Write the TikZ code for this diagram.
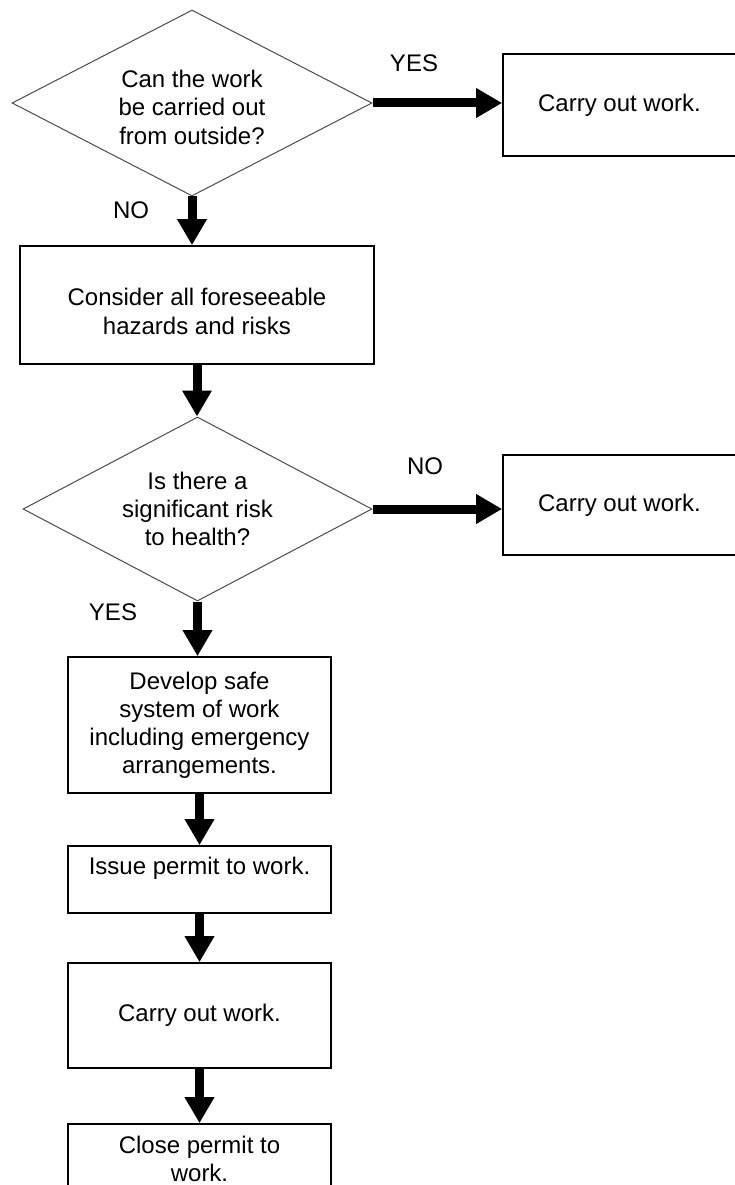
\documentclass[tikz,border=0pt]{standalone}
\usepackage{fontspec}
\setmainfont{Liberation Sans}
\usetikzlibrary{shapes.geometric,arrows.meta}
\begin{document}
\begin{tikzpicture}[x=1pt,y=-1pt, font=\fontsize{24}{28}\selectfont,
 box/.style={draw, line width=1.6pt, rectangle, inner sep=0pt, align=center},
 dec/.style={draw=black!70, line width=1pt, diamond, inner sep=0pt, align=center},
 flow/.style={line width=9pt, -{Triangle[width=28pt,length=26pt]}},
 lab/.style={inner sep=0pt}]
\useasboundingbox (0,0) rectangle (734,1185);
\fill[white] (0,0) rectangle (734,1185);

\node[dec, minimum width=360pt, minimum height=186pt, aspect=1.94] (d1) at (192,103) {\raisebox{-7pt}[\height][\depth]{\begin{tabular}{@{}c@{}}Can the work\\[0.5pt]be carried out\\[0.5pt]from outside?\end{tabular}}};
\node[box, minimum width=233pt, minimum height=102pt] (r1) at (619.5,105) {Carry out work.};
\node[box, minimum width=354pt, minimum height=118pt] (b2) at (197,305) {\raisebox{-9pt}[\height][\depth]{\begin{tabular}{@{}c@{}}Consider all foreseeable\\[1pt]hazards and risks\end{tabular}}};
\node[dec, minimum width=349pt, minimum height=184pt, aspect=1.9] (d2) at (197.5,509) {Is there a\\significant risk\\to health?};
\node[box, minimum width=233pt, minimum height=100pt] (r2) at (619.5,505) {Carry out work.};
\node[box, minimum width=263pt, minimum height=136pt] (b3) at (199.5,725) {Develop safe\\system of work\\including emergency\\arrangements.};
\node[box, minimum width=263pt, minimum height=67pt] (b4) at (199.5,879.5) {Issue permit to work.\\\mbox{}};
\node[box, minimum width=263pt, minimum height=82pt] (b6) at (199.5,1165) {\raisebox{3pt}[\height][\depth]{\begin{tabular}{@{}c@{}}Close permit to\\work.\end{tabular}}};
\node[box, minimum width=263pt, minimum height=105pt] (b5) at (199.5,1015.5) {Carry out work.};

\node[lab] (yes1) at (414,63) {YES};
\node[lab] (no1) at (131,210) {NO};
\node[lab] (no2) at (425,466) {NO};
\node[lab] (yes2) at (113,612) {YES};

\draw[flow] (d1.east) -- (d1.east -| r1.west);
\draw[flow] (d2.east) -- (d2.east -| r2.west);
\draw[flow] (d1.south) -- (d1.south |- b2.north);
\draw[flow] (b2.south) -- (b2.south |- d2.north);
\draw[flow] (d2.south) -- (d2.south |- b3.north);
\draw[flow] (b3.south) -- (b4.north);
\draw[flow] (b4.south) -- (b5.north);
\draw[flow] (b5.south) -- (b6.north);
\end{tikzpicture}
\end{document}
